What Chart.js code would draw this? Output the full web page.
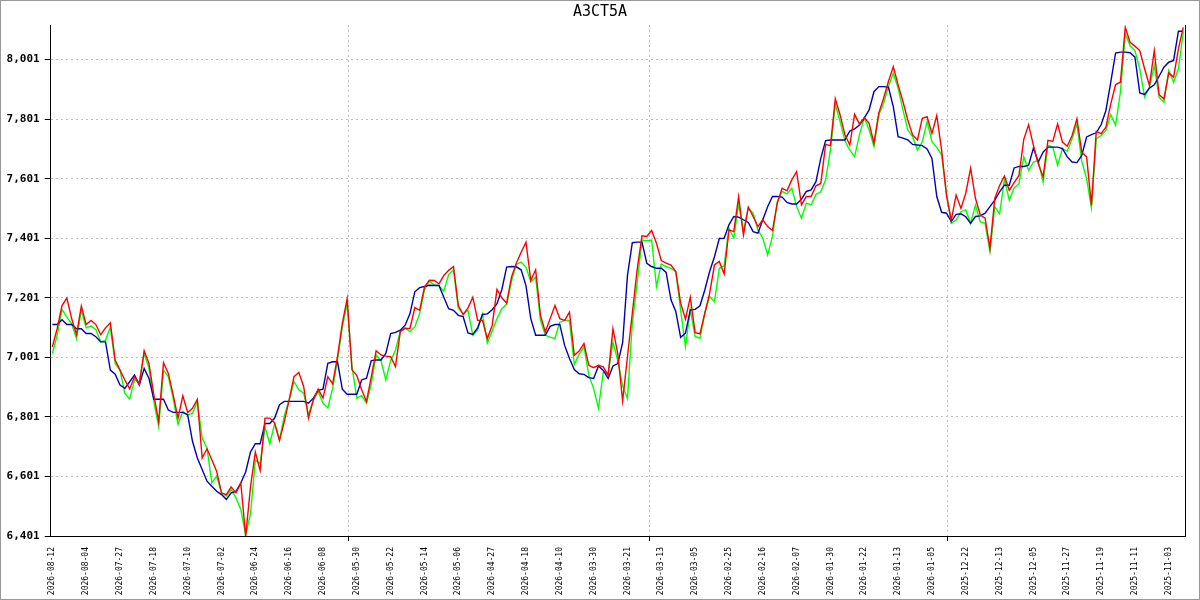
<!DOCTYPE html>
<html>
<head>
<meta charset="utf-8">
<title>A3CT5A</title>
<script src="https://cdn.jsdelivr.net/npm/chart.js@4.4.1/dist/chart.umd.min.js"></script>
<style>
    html, body { margin: 0; padding: 0; background: #fff; }
    #wrap { width: 1200px; height: 600px; }
</style>
</head>
<body>
<div id="wrap"><canvas id="priceChart" width="1200" height="600"></canvas></div>
<script>
const TITLE = 'A3CT5A';

// one label every 7 points, newest on the left
const LABEL_STEP = 7;
const dateLabels = [
    '2026-08-12', '2026-08-04', '2026-07-27', '2026-07-18', '2026-07-10', '2026-07-02',
    '2026-06-24', '2026-06-16', '2026-06-08', '2026-05-30', '2026-05-22', '2026-05-14',
    '2026-05-06', '2026-04-27', '2026-04-18', '2026-04-10', '2026-03-30', '2026-03-21',
    '2026-03-13', '2026-03-05', '2026-02-25', '2026-02-16', '2026-02-07', '2026-01-30',
    '2026-01-22', '2026-01-13', '2026-01-05', '2025-12-22', '2025-12-13', '2025-12-05',
    '2025-11-27', '2025-11-19', '2025-11-11', '2025-11-03'
];

const yTicks = [6401, 6601, 6801, 7001, 7201, 7401, 7601, 7801, 8001];

const redSeries = [
    7036, 7097, 7175, 7200, 7131, 7077, 7173, 7111, 7125, 7111, 7077, 7100, 7117, 6992, 6958, 6925, 6895, 6936, 6910, 7023,
    6980, 6875, 6785, 6983, 6947, 6875, 6797, 6872, 6816, 6830, 6860, 6663, 6694, 6657, 6618, 6546, 6540, 6566, 6546, 6578,
    6401, 6565, 6683, 6621, 6797, 6797, 6780, 6722, 6785, 6858, 6936, 6950, 6903, 6797, 6858, 6894, 6864, 6936, 6912, 7003,
    7115, 7198, 6959, 6940, 6892, 6853, 6936, 7023, 7009, 7005, 7003, 6970, 7087, 7098, 7098, 7168, 7159, 7237, 7260,
    7259, 7248, 7276, 7293, 7306, 7175, 7144, 7167, 7203, 7125, 7125, 7064, 7108, 7229, 7201, 7183, 7270, 7317, 7354, 7388,
    7259, 7295, 7142, 7086, 7131, 7175, 7131, 7125, 7153, 7008, 7022, 7047, 6974, 6966, 6974, 6969, 6941, 7097, 7013, 6855,
    7003, 7149, 7295, 7409, 7407, 7427, 7384, 7326, 7317, 7311, 7289, 7183, 7129, 7203, 7084, 7080, 7149, 7216, 7311, 7323,
    7281, 7429, 7423, 7541, 7412, 7505, 7474, 7440, 7463, 7440, 7427, 7519, 7569, 7560, 7597, 7625, 7513, 7541, 7541,
    7577, 7585, 7716, 7712, 7869, 7815, 7748, 7714, 7817, 7784, 7806, 7787, 7720, 7821, 7871, 7927, 7977, 7916, 7860, 7798,
    7748, 7731, 7804, 7809, 7753, 7813, 7697, 7546, 7462, 7546, 7501, 7552, 7636, 7535, 7479, 7468, 7367, 7535, 7578,
    7610, 7562, 7588, 7612, 7733, 7782, 7713, 7651, 7607, 7730, 7726, 7785, 7724, 7710, 7746, 7802, 7690, 7674, 7512, 7760,
    7752, 7774, 7852, 7917, 7925, 8109, 8059, 8046, 8031, 7970, 7914, 8031, 7883, 7869, 7956, 7942, 8037, 8109
];

const greenSeries = [
    7014, 7075, 7162, 7136, 7114, 7064, 7159, 7100, 7106, 7095, 7053, 7058, 7103, 6980, 6958, 6880, 6861, 6925, 6919, 7014,
    6964, 6852, 6769, 6958, 6936, 6863, 6776, 6819, 6808, 6813, 6852, 6730, 6696, 6579, 6602, 6546, 6535, 6557, 6529, 6490,
    6405, 6475, 6655, 6644, 6767, 6711, 6779, 6722, 6805, 6858, 6920, 6892, 6881, 6808, 6858, 6886, 6847, 6831, 6897, 6992,
    7103, 7182, 6970, 6864, 6872, 6847, 6912, 7009, 6990, 6925, 6990, 7025, 7090, 7101, 7087, 7103, 7148, 7228, 7256,
    7245, 7242, 7223, 7279, 7295, 7167, 7147, 7159, 7075, 7092, 7147, 7049, 7089, 7131, 7164, 7179, 7257, 7313, 7321, 7304,
    7254, 7270, 7125, 7075, 7069, 7064, 7119, 7125, 7125, 6977, 7011, 7036, 6941, 6896, 6830, 6952, 6946, 7052, 6991, 6905,
    6863, 7115, 7250, 7395, 7393, 7395, 7239, 7314, 7306, 7300, 7289, 7160, 7037, 7160, 7071, 7065, 7149, 7205, 7188, 7300,
    7308, 7435, 7401, 7516, 7423, 7502, 7485, 7429, 7401, 7345, 7407, 7524, 7558, 7550, 7569, 7507, 7468, 7519, 7513,
    7548, 7557, 7597, 7697, 7851, 7793, 7728, 7697, 7675, 7748, 7806, 7765, 7709, 7815, 7854, 7910, 7955, 7905, 7832, 7765,
    7742, 7697, 7725, 7793, 7725, 7706, 7681, 7552, 7451, 7462, 7490, 7496, 7451, 7512, 7456, 7451, 7356, 7507, 7483,
    7599, 7529, 7570, 7584, 7674, 7629, 7657, 7662, 7590, 7713, 7707, 7646, 7702, 7693, 7735, 7785, 7659, 7601, 7503, 7735,
    7746, 7763, 7816, 7780, 7892, 8087, 8048, 8031, 7970, 7875, 7908, 7981, 7875, 7858, 7964, 7925, 7970, 8093
];

const blueSeries = [
    7111, 7111, 7127, 7111, 7111, 7097, 7097, 7081, 7081, 7070, 7053, 7053, 6958, 6944, 6908, 6897, 6919, 6941, 6908, 6964,
    6930, 6860, 6860, 6860, 6824, 6816, 6816, 6816, 6808, 6719, 6663, 6624, 6585, 6568, 6551, 6540, 6524, 6546, 6551, 6579,
    6616, 6683, 6711, 6711, 6779, 6779, 6797, 6842, 6853, 6853, 6853, 6853, 6853, 6847, 6864, 6890, 6894, 6981, 6986, 6986,
    6894, 6877, 6877, 6877, 6925, 6931, 6990, 6992, 6992, 7014, 7081, 7085, 7092, 7109, 7148, 7221, 7235, 7239, 7243,
    7242, 7242, 7203, 7164, 7159, 7142, 7138, 7083, 7078, 7100, 7145, 7147, 7161, 7181, 7228, 7304, 7306, 7305, 7295, 7242,
    7131, 7075, 7075, 7075, 7105, 7111, 7111, 7041, 6997, 6960, 6946, 6944, 6933, 6930, 6972, 6957, 6930, 6972, 6980, 7050,
    7276, 7386, 7388, 7388, 7317, 7306, 7300, 7300, 7286, 7194, 7155, 7068, 7082, 7160, 7162, 7174, 7227, 7289, 7339, 7400,
    7401, 7446, 7474, 7472, 7463, 7454, 7423, 7418, 7463, 7507, 7541, 7541, 7539, 7521, 7516, 7516, 7532, 7558, 7563,
    7591, 7669, 7729, 7731, 7731, 7731, 7731, 7761, 7768, 7781, 7804, 7832, 7893, 7910, 7910, 7908, 7843, 7742, 7737, 7731,
    7716, 7714, 7712, 7701, 7669, 7541, 7488, 7485, 7457, 7481, 7483, 7473, 7451, 7474, 7476, 7485, 7507, 7529, 7557,
    7579, 7579, 7637, 7642, 7642, 7646, 7704, 7657, 7690, 7707, 7707, 7707, 7702, 7674, 7657, 7655, 7679, 7741, 7749, 7755,
    7782, 7830, 7925, 8023, 8026, 8026, 8024, 8009, 7889, 7884, 7905, 7916, 7945, 7975, 7992, 7998, 8096, 8096
];

// vertical dotted grid columns (in point units, not tied to the labels)
const gridColumns = [61.38, 123.46, 185.3];

const MONO = "'DejaVu Sans Mono', 'Liberation Mono', monospace";
const GRID_COLOR = '#bdbdbd';

function toPoints(values) {
    return values.map((y, i) => ({ x: i, y: y }));
}

function isGridColumn(value) {
    return gridColumns.includes(value);
}

const frame = {
    id: 'frame',
    beforeDraw(chart) {
        const ctx = chart.ctx;
        ctx.save();
        ctx.fillStyle = '#fff';
        ctx.fillRect(0, 0, chart.width, chart.height);
        ctx.restore();
    },
    afterDraw(chart) {
        const ctx = chart.ctx;
        ctx.save();
        ctx.strokeStyle = '#999';
        ctx.lineWidth = 1;
        ctx.strokeRect(0.5, 0.5, chart.width - 1, chart.height - 1);
        ctx.restore();
    }
};

const ctx = document.getElementById('priceChart').getContext('2d');

new Chart(ctx, {
    type: 'line',
    data: {
        datasets: [
            { data: toPoints(redSeries), borderColor: '#ff0000', borderWidth: 1.4 },
            { data: toPoints(blueSeries), borderColor: '#0000b4', borderWidth: 1.4 },
            { data: toPoints(greenSeries), borderColor: '#00ff00', borderWidth: 1.4 }
        ]
    },
    options: {
        responsive: false,
        animation: false,
        events: [],
        elements: {
            point: { radius: 0 },
            line: { tension: 0, fill: false }
        },
        layout: { padding: 0 },
        plugins: {
            legend: { display: false },
            tooltip: { enabled: false },
            title: {
                display: true,
                text: TITLE,
                color: '#000',
                font: { family: MONO, size: 15, weight: 'normal' },
                padding: { top: 3.5, bottom: 3.5 }
            }
        },
        scales: {
            x: {
                type: 'linear',
                min: -0.34,
                max: 234.36,
                afterBuildTicks: (scale) => {
                    const ticks = dateLabels.map((_, k) => ({ value: k * LABEL_STEP }));
                    gridColumns.forEach(v => ticks.push({ value: v }));
                    ticks.sort((a, b) => a.value - b.value);
                    scale.ticks = ticks;
                },
                afterFit: (scale) => { scale.height = 64; },
                grid: {
                    color: (c) => isGridColumn(c.tick.value) ? GRID_COLOR : 'rgba(0,0,0,0)',
                    tickColor: (c) => isGridColumn(c.tick.value) ? '#000' : 'rgba(0,0,0,0)',
                    tickLength: 5,
                    lineWidth: 1
                },
                border: { display: true, color: '#000', width: 1, dash: [2, 3] },
                ticks: {
                    autoSkip: false,
                    minRotation: 90,
                    maxRotation: 90,
                    padding: 6,
                    color: '#000',
                    font: { family: MONO, size: 8 },
                    callback: (value) => {
                        const k = value / LABEL_STEP;
                        return Number.isInteger(k) && k < dateLabels.length ? dateLabels[k] : '';
                    }
                }
            },
            y: {
                type: 'linear',
                position: 'left',
                min: 6401,
                max: 8117,
                afterBuildTicks: (scale) => {
                    scale.ticks = yTicks.map(v => ({ value: v }));
                },
                afterFit: (scale) => { scale.width = 50.7; },
                grid: {
                    color: (c) => c.tick.value === yTicks[0] ? 'rgba(0,0,0,0)' : GRID_COLOR,
                    tickColor: '#000',
                    tickLength: 6,
                    lineWidth: 1
                },
                border: { display: true, color: '#000', width: 1, dash: [2, 3] },
                ticks: {
                    padding: 5,
                    color: '#000',
                    font: { family: MONO, size: 11, weight: 'bold' },
                    callback: (value) => value.toLocaleString('en-US')
                }
            },
            yEdge: {
                type: 'linear',
                position: 'right',
                afterFit: (scale) => { scale.width = 15; },
                grid: { drawOnChartArea: false, drawTicks: false },
                border: { display: true, color: '#000', width: 1 },
                ticks: { display: false }
            }
        }
    },
    plugins: [frame]
});
</script>
</body>
</html>
